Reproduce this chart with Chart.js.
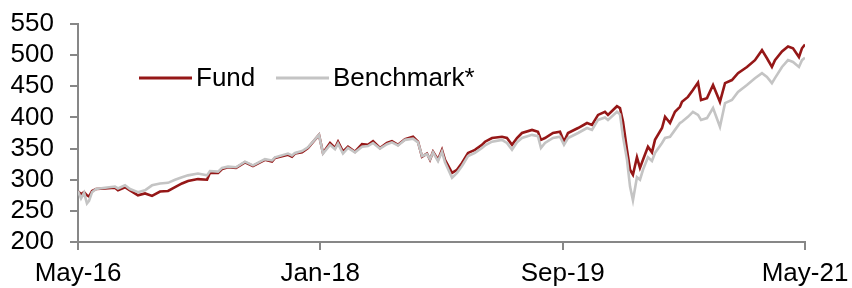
<!DOCTYPE html>
<html lang="en">
<head>
  <meta charset="UTF-8" />
  <title>Fund vs Benchmark</title>
  <script src="https://cdn.jsdelivr.net/npm/chart.js"></script>
  <style>
    html, body {
      margin: 0;
      padding: 0;
      background: #fff;
    }
    .chart-box {
      position: relative;
      width: 852px;
      height: 288px;
    }
  </style>
</head>
<body>
  <div class="chart-box">
    <canvas id="perfChart"></canvas>
  </div>

  <script>
    // months since May-16
    const months = [
      0, 0.25, 0.5, 0.74, 0.91, 1.16, 1.49, 2.23, 3.05, 3.3, 3.88, 4.29, 4.95, 5.53, 6.11, 6.77,
      7.43, 8.01, 8.58, 9.08, 9.9, 10.65, 10.89, 11.56, 11.89, 12.38, 13.04, 13.78, 14.44, 15.43,
      16.01, 16.26, 17.33, 17.66, 17.91, 18.49, 18.98, 19.89, 20.22, 20.8, 21.21, 21.46, 21.87,
      22.28, 22.86, 23.44, 23.93, 24.35, 24.92, 25.5, 25.91, 26.41, 26.99, 27.65, 28.06, 28.39,
      28.8, 29.05, 29.3, 29.71, 30.04, 30.29, 30.87, 31.28, 31.69, 32.19, 32.76, 33.34, 33.59,
      34.17, 34.99, 35.4, 35.82, 36.23, 36.64, 37.47, 37.96, 38.21, 38.54, 39.2, 39.78, 40.11,
      40.44, 41.27, 42.01, 42.42, 42.92, 43.49, 43.74, 44.48, 44.73, 44.98, 45.31, 45.56, 45.8,
      46.13, 46.38, 46.63, 47.04, 47.37, 47.62, 48.2, 48.45, 48.86, 49.27, 49.68, 49.85, 50.34,
      50.75, 51.17, 51.42, 51.91, 52.41, 52.98, 53.4, 53.97, 54.47, 55.21, 55.87, 56.45, 56.86,
      57.27, 57.52, 58.1, 58.6, 59.01, 59.5, 59.75, 60
    ];

    const fund = [
      281, 277, 280, 275, 273, 282, 285, 286, 287, 283, 288, 283, 275, 278, 274, 281,
      282, 288, 294, 298, 301, 300, 311, 311, 317, 320, 319, 328, 322, 332,
      329, 335, 340, 337, 342, 344, 351, 372, 343, 359, 351, 361, 345,
      353, 345, 357, 356, 362, 351, 359, 362, 356, 365, 369, 361, 337,
      342, 332, 345, 332, 348, 332, 311, 316, 327, 343, 348, 356, 361,
      367, 369, 367, 356, 367, 375, 380, 377, 364, 367, 375, 377, 361,
      375, 383, 391, 388, 404, 409, 404, 418, 415, 393, 348, 316, 308,
      336, 319, 332, 353, 344, 364, 383, 401, 391, 409, 417, 425, 433,
      444, 456, 428, 431, 452, 425, 455, 460, 471, 481, 492, 508, 495,
      481, 492, 506, 514, 511, 497, 511, 517
    ];

    const benchmark = [
      282, 270, 279, 262, 266, 280, 285, 287, 289, 286, 291, 285, 280, 283, 291, 294,
      295, 300, 304, 307, 310, 307, 314, 313, 319, 321, 320, 329, 323, 333,
      331, 336, 342, 339, 343, 346, 352, 372, 342, 356, 349, 358, 342,
      351, 344, 353, 354, 359, 350, 357, 360, 355, 364, 366, 360, 338,
      341, 333, 344, 330, 345, 328, 303, 311, 322, 338, 343, 351, 355,
      361, 364, 359, 348, 360, 367, 372, 370, 351, 359, 367, 369, 356,
      367, 375, 383, 380, 396, 400, 396, 409, 405, 369, 332, 289, 267,
      304, 300, 316, 336, 330, 343, 359, 367, 369, 380, 391, 393, 401,
      409, 404, 396, 399, 415, 385, 423, 428, 441, 452, 463, 471, 465,
      455, 463, 481, 492, 489, 481, 492, 496
    ];

    const tickLabels = ["May-16", "Jan-18", "Sep-19", "May-21"];
    const seriesNames = ["Fund", "Benchmark*"];

    const FONT = '"Liberation Sans", Arial, sans-serif';
    const AXIS_GREY = "#878787";

    // legend drawn inside the plot, top left
    const insideLegend = {
      id: "insideLegend",
      afterDraw(chart) {
        const ctx = chart.ctx;
        const spots = [
          { x1: 139, x2: 192, tx: 196 },
          { x1: 276, x2: 329, tx: 333 }
        ];
        const y = 78;
        ctx.save();
        ctx.font = "26px " + FONT;
        ctx.textBaseline = "middle";
        ctx.fillStyle = "#000";
        chart.data.datasets.forEach((ds, i) => {
          const s = spots[i];
          ctx.strokeStyle = ds.borderColor;
          ctx.lineWidth = 3;
          ctx.beginPath();
          ctx.moveTo(s.x1, y);
          ctx.lineTo(s.x2, y);
          ctx.stroke();
          ctx.fillText(ds.label, s.tx, y + 1);
        });
        ctx.restore();
      }
    };

    const ctx = document.getElementById("perfChart").getContext("2d");
    new Chart(ctx, {
      type: "line",
      data: {
        datasets: [
          {
            label: seriesNames[0],
            data: months.map((m, i) => ({ x: m, y: fund[i] })),
            borderColor: "#951717",
            borderWidth: 2.6,
            pointRadius: 0,
            tension: 0,
            order: 2
          },
          {
            label: seriesNames[1],
            data: months.map((m, i) => ({ x: m, y: benchmark[i] })),
            borderColor: "#c4c4c4",
            borderWidth: 2.6,
            pointRadius: 0,
            tension: 0,
            order: 1
          }
        ]
      },
      options: {
        responsive: true,
        maintainAspectRatio: false,
        animation: false,
        layout: {
          padding: { top: 24, right: 47, left: 0, bottom: 0 }
        },
        plugins: {
          legend: { display: false },
          tooltip: { enabled: false }
        },
        scales: {
          x: {
            type: "linear",
            min: 0,
            max: 60,
            afterBuildTicks: (scale) => {
              scale.ticks = tickLabels.map((t, i) => ({ value: i * 20 }));
            },
            afterFit: (scale) => {
              scale.height = 46;
              scale.paddingLeft = 0;
              scale.paddingRight = 0;
            },
            ticks: {
              autoSkip: false,
              maxRotation: 0,
              padding: 8,
              color: "#000",
              font: { family: FONT, size: 26 },
              callback: (v) => tickLabels[Math.round(v / 20)]
            },
            grid: {
              drawOnChartArea: false,
              drawTicks: true,
              tickLength: 8,
              color: AXIS_GREY,
              lineWidth: 2
            },
            border: { color: AXIS_GREY, width: 2 }
          },
          y: {
            min: 200,
            max: 550,
            afterFit: (scale) => {
              scale.width = 78;
              scale.paddingTop = 0;
              scale.paddingBottom = 0;
            },
            ticks: {
              stepSize: 50,
              autoSkip: false,
              padding: 16,
              color: "#000",
              font: { family: FONT, size: 26 }
            },
            grid: {
              drawOnChartArea: false,
              drawTicks: true,
              tickLength: 8,
              color: AXIS_GREY,
              lineWidth: 2
            },
            border: { color: AXIS_GREY, width: 2 }
          }
        }
      },
      plugins: [insideLegend]
    });
  </script>
</body>
</html>
